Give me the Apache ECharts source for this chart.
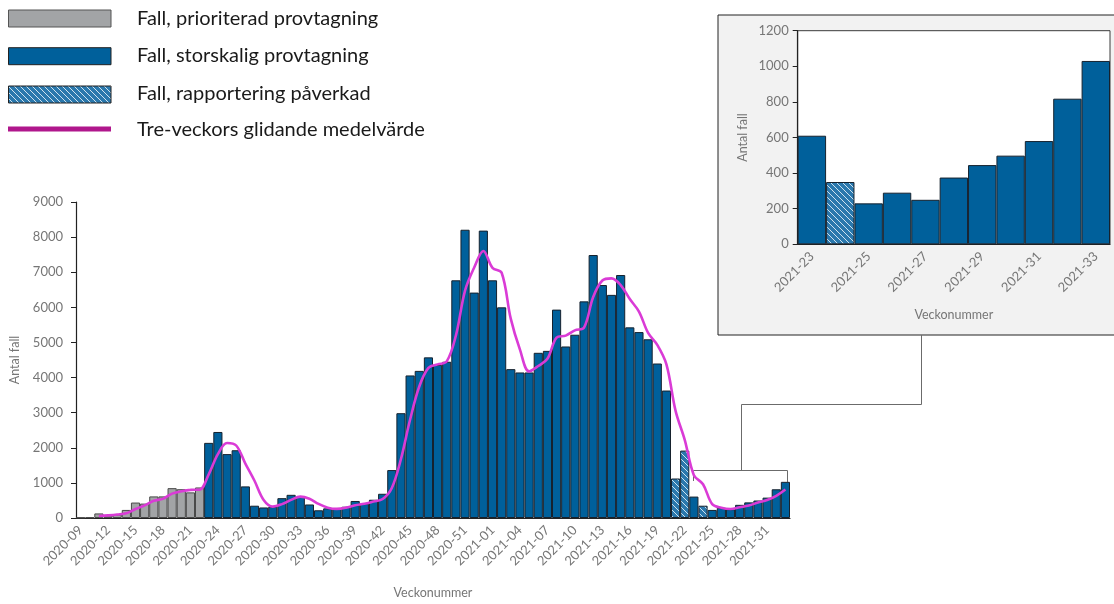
<!DOCTYPE html>
<html>
<head>
<meta charset="utf-8">
<script src="https://cdn.jsdelivr.net/npm/echarts@6/dist/echarts.min.js"></script>
<style>html,body{margin:0;padding:0;background:#fff}#c{width:1114px;height:604px}</style>
</head>
<body>
<div id="c"></div>
<script>
const weeks = ['2020-09','2020-10','2020-11','2020-12','2020-13','2020-14','2020-15','2020-16','2020-17','2020-18','2020-19','2020-20','2020-21','2020-22','2020-23','2020-24','2020-25','2020-26','2020-27','2020-28','2020-29','2020-30','2020-31','2020-32','2020-33','2020-34','2020-35','2020-36','2020-37','2020-38','2020-39','2020-40','2020-41','2020-42','2020-43','2020-44','2020-45','2020-46','2020-47','2020-48','2020-49','2020-50','2020-51','2020-52','2020-53','2021-01','2021-02','2021-03','2021-04','2021-05','2021-06','2021-07','2021-08','2021-09','2021-10','2021-11','2021-12','2021-13','2021-14','2021-15','2021-16','2021-17','2021-18','2021-19','2021-20','2021-21','2021-22','2021-23','2021-24','2021-25','2021-26','2021-27','2021-28','2021-29','2021-30','2021-31','2021-32','2021-33'];
const cases = [15,20,130,70,100,230,440,410,615,615,850,820,730,870,2140,2450,1820,1930,900,350,300,320,565,660,600,385,220,275,285,320,485,410,520,690,1365,2985,4060,4190,4575,4360,4450,6770,8210,6420,8185,6770,6000,4240,4145,4145,4705,4760,5935,4885,5220,6170,7490,6635,6355,6920,5430,5295,5090,4400,3630,1125,1920,610,350,230,290,250,375,445,498,580,818,1030];
// p = prioriterad, s = storskalig, r = rapportering påverkad
const kind = ['p','p','p','p','p','p','p','p','p','p','p','p','p','p','s','s','s','s','s','s','s','s','s','s','s','s','s','s','s','s','s','s','s','s','s','s','s','s','s','s','s','s','s','s','s','s','s','s','s','s','s','s','s','s','s','s','s','s','s','s','s','s','s','s','s','r','r','s','r','s','s','s','s','s','s','s','s','s'];
const movingAvg = [null,null,55,75,100,135,255,360,490,545,695,760,800,805,1245,1820,2135,2065,1550,1060,515,325,395,515,610,550,400,295,260,295,365,405,470,540,855,1680,2805,3745,4275,4375,4460,5195,6475,7135,7605,7125,6985,5670,4795,4175,4330,4535,5135,5195,5345,5425,6295,6765,6825,6635,6235,5880,5270,4930,4375,3050,2225,1220,960,395,290,255,305,355,440,510,630,810];
const seriesNames = ['Fall, prioriterad provtagning','Fall, storskalig provtagning','Fall, rapportering påverkad','Tre-veckors glidande medelvärde'];
const mainTicks = [0,9000,1000];
const insetTicks = [0,1200,200];
const insetStart = 67;

const BLUE = '#00609b', GRAY = '#a2a4a6', MAG = '#da3bd6', MAG_LEG = '#b0178c';

function hatch(){
  const c = document.createElement('canvas'); c.width = 6; c.height = 6;
  const g = c.getContext('2d');
  g.fillStyle = '#2a78ad'; g.fillRect(0,0,6,6);
  g.strokeStyle = '#cfe2ef'; g.lineWidth = 1;
  g.beginPath();
  g.moveTo(-1,-1); g.lineTo(7,7);
  g.moveTo(-4,2); g.lineTo(2,8);
  g.moveTo(2,-4); g.lineTo(8,2);
  g.stroke();
  return c;
}
const hatchColor = {image: hatch(), repeat: 'repeat'};

const chart = echarts.init(document.getElementById('c'), null, {renderer:'canvas'});
const pick = (k, from) => cases.slice(from).map((v,i)=> kind[i+from]===k ? v : '-');
const axisTxt = {color:'#767676', fontFamily:'Lato'};
const plain = v => String(v);

const barBase = (name, k, color, border, xi, from) => ({
  name, type:'bar', stack:'all'+xi, xAxisIndex:xi, yAxisIndex:xi,
  barCategoryGap:'0%', data: pick(k, from),
  itemStyle:{color, borderColor:border, borderWidth:1}, emphasis:{disabled:true}
});

const legendY = [10, 47.7, 86];
const legendEls = [];
[GRAY, BLUE, hatchColor].forEach((col, i) => {
  legendEls.push({type:'rect', shape:{x:8.5, y:legendY[i], width:102.5, height:17}, style:{fill:col, stroke: i===0?'#555':'#222', lineWidth:1}});
});
legendEls.push({type:'rect', shape:{x:8, y:126.5, width:103, height:5}, style:{fill:MAG_LEG}});
seriesNames.forEach((n,i) => {
  legendEls.push({type:'text', x:137, y:[18.5,56,94,130][i], style:{text:n, font:'20px Lato', fill:'#1a1a1a', verticalAlign:'middle'}});
});

const lineCol = '#6b6b6b';
const option = {
  animation:false,
  textStyle:{fontFamily:'Lato'},
  grid:[
    {left:76, top:202, right:324, bottom:82.3},
    {left:797.7, top:30.7, right:4, bottom:359.7, show:true, backgroundColor:'#ffffff', borderColor:'#3a3a3a', borderWidth:1, z:3}
  ],
  xAxis:[
    {type:'category', gridIndex:0, data:weeks, axisTick:{show:false},
     axisLine:{lineStyle:{color:'#222', width:1.2}},
     axisLabel:Object.assign({interval:2, rotate:45, fontSize:13, margin:10}, axisTxt),
     name:'Veckonummer', nameLocation:'middle', nameGap:68, nameTextStyle:Object.assign({fontSize:12.5}, axisTxt)},
    {type:'category', gridIndex:1, data:weeks.slice(insetStart), axisTick:{show:false},
     axisLine:{lineStyle:{color:'#222', width:1.2}}, z:4,
     axisLabel:Object.assign({interval:1, rotate:45, fontSize:13, margin:10}, axisTxt),
     name:'Veckonummer', nameLocation:'middle', nameGap:64, nameTextStyle:Object.assign({fontSize:12.5}, axisTxt)}
  ],
  yAxis:[
    {type:'value', gridIndex:0, min:mainTicks[0], max:mainTicks[1], interval:mainTicks[2], splitLine:{show:false},
     axisLine:{show:true, lineStyle:{color:'#222', width:1.2}}, axisTick:{show:true, length:5, lineStyle:{color:'#222'}},
     axisLabel:Object.assign({fontSize:13, margin:13, formatter:plain}, axisTxt),
     name:'Antal fall', nameLocation:'middle', nameGap:40, nameTextStyle:Object.assign({fontSize:12.5}, axisTxt)},
    {type:'value', gridIndex:1, min:insetTicks[0], max:insetTicks[1], interval:insetTicks[2], splitLine:{show:false}, z:4,
     axisLine:{show:true, lineStyle:{color:'#222', width:1.2}}, axisTick:{show:true, length:5, lineStyle:{color:'#222'}},
     axisLabel:Object.assign({fontSize:13, margin:9, formatter:plain}, axisTxt),
     name:'Antal fall', nameLocation:'middle', nameGap:48, nameTextStyle:Object.assign({fontSize:12.5}, axisTxt)}
  ],
  series:[
    barBase(seriesNames[0],'p',GRAY,'#4a4a4a',0,0),
    barBase(seriesNames[1],'s',BLUE,'#16222e',0,0),
    barBase(seriesNames[2],'r',hatchColor,'#16222e',0,0),
    {name:seriesNames[3], type:'line', xAxisIndex:0, yAxisIndex:0, data:movingAvg, smooth:0.35, symbol:'none',
     lineStyle:{color:MAG, width:2.6}, z:5, emphasis:{disabled:true}},
    Object.assign(barBase(seriesNames[1],'s',BLUE,'#16222e',1,insetStart), {z:5}),
    Object.assign(barBase(seriesNames[2],'r',hatchColor,'#16222e',1,insetStart), {z:5})
  ],
  graphic:{elements:[
    {type:'rect', z:0, shape:{x:718, y:15, width:400, height:320}, style:{fill:'#f2f2f2', stroke:'#222', lineWidth:1}},
    {type:'polyline', z:1, shape:{points:[[693.5,481],[693.5,470.5],[787.5,470.5],[787.5,482]]}, style:{stroke:lineCol, lineWidth:1, fill:null}},
    {type:'polyline', z:1, shape:{points:[[741.5,470.5],[741.5,404.5],[921.5,404.5],[921.5,335]]}, style:{stroke:lineCol, lineWidth:1, fill:null}}
  ].concat(legendEls)}
};
chart.setOption(option);
</script>
</body>
</html>
